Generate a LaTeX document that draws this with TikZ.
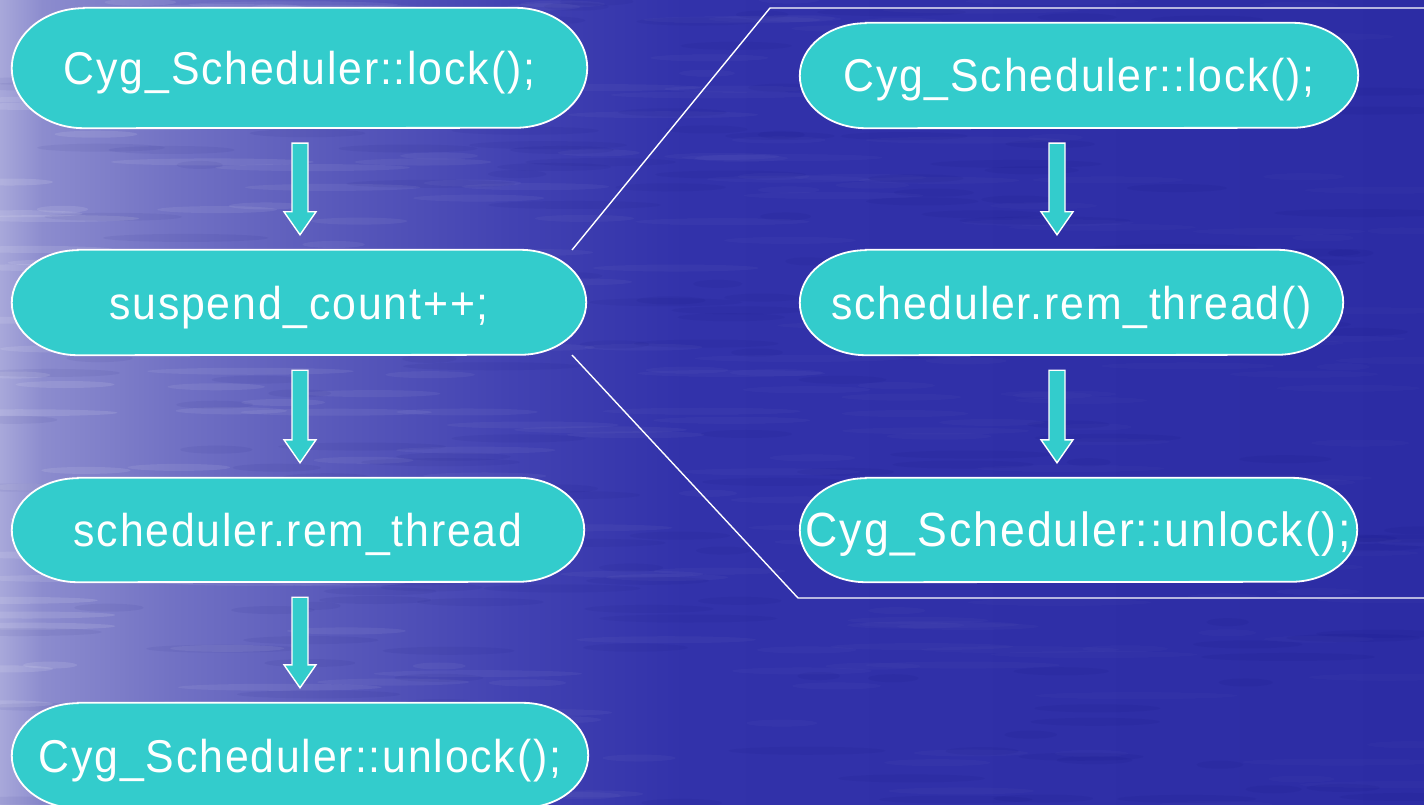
\documentclass[tikz,border=0pt]{standalone}
\usepackage{fontspec}
\newfontfamily\labelfont{Liberation Sans}[FakeStretch=0.93,LetterSpace=4.0]
\usetikzlibrary{calc}

\pgfdeclarelayer{water}
\pgfdeclarelayer{shapes}
\pgfsetlayers{water,shapes,main}

\definecolor{sea}{HTML}{2C2CA4}
\definecolor{pill}{HTML}{33CCCC}
\definecolor{seaA}{HTML}{A8A8DA}
\definecolor{seaB}{HTML}{8C8CCE}
\definecolor{seaC}{HTML}{7272C4}
\definecolor{seaD}{HTML}{5858BA}
\definecolor{seaE}{HTML}{4242B2}
\definecolor{seaF}{HTML}{3232AA}

% horizontal colour ramp of the water backdrop (stretched over 25bp..75bp)
\pgfdeclarehorizontalshading{seaRamp}{100bp}{%
  color(0bp)=(seaA); color(25bp)=(seaA); color(26.5bp)=(seaB); color(31bp)=(seaC);
  color(37bp)=(seaD); color(43bp)=(seaE); color(49bp)=(seaF);
  color(75bp)=(sea); color(100bp)=(sea)}

\tikzset{
  pillnode/.style={inner sep=0pt, text=white,
    font=\labelfont\fontsize{46}{50}\selectfont,
    text height=33pt, text depth=0pt},
  pillbody/.style={fill=pill, draw=white, line width=1.8pt},
  flowarrow/.style={fill=pill, draw=white, line width=1.4pt, line join=miter},
  bracket/.style={draw=white, line width=1.4pt},
}

% elliptic-ended body behind a named node; #2 = end radius across, #3 = half height
\newcommand\pillbody[3]{%
  \path[pillbody]
    ([xshift=#2]#1.north west) -- ([xshift=-#2]#1.north east)
    arc[start angle=90, end angle=-90, x radius=#2, y radius=#3]
    -- ([xshift=#2]#1.south west)
    arc[start angle=270, end angle=90, x radius=#2, y radius=#3] -- cycle;}

% block arrow from node #1 down to node #2 along the column coordinate #3
\newcommand\flow[3]{%
  \path[flowarrow] let \p1=(#1.south), \p2=(#2.north), \p3=(#3) in
    (\x3-8pt,\y1-15pt) -- (\x3+8pt,\y1-15pt) -- (\x3+8pt,\y2+38pt)
    -- (\x3+16pt,\y2+38pt) -- (\x3,\y2+15pt) -- (\x3-16pt,\y2+38pt)
    -- (\x3-8pt,\y2+38pt) -- cycle;}

\begin{document}
\begin{tikzpicture}[x=1pt, y=-1pt]
  \useasboundingbox (0,0) rectangle (1424,805);
  \clip (0,0) rectangle (1424,805);

  % water backdrop with soft horizontal ripples
  \begin{pgfonlayer}{water}
    \shade[shading=seaRamp] (0,0) rectangle (1424,805);
    \pgfmathsetseed{11}
    \foreach \i in {1,...,260}{
      \pgfmathsetmacro\sx{rnd*1424}
      \pgfmathsetmacro\sy{rnd*805}
      \pgfmathsetmacro\sw{25+rnd*80}
      \pgfmathsetmacro\so{0.015+0.10*(1-\sx/1424)^3}
      \fill[white, opacity=\so] (\sx,\sy) ellipse [x radius=\sw pt, y radius=3.5pt];
    }
    \foreach \i in {1,...,200}{
      \pgfmathsetmacro\sx{rnd*1424}
      \pgfmathsetmacro\sy{rnd*805}
      \pgfmathsetmacro\sw{20+rnd*70}
      \fill[blue!40!black, opacity=0.05] (\sx,\sy) ellipse [x radius=\sw pt, y radius=4pt];
    }
  \end{pgfonlayer}

  % column axes of the arrows
  \coordinate (colL) at (300,0);
  \coordinate (colR) at (1057,0);

  % left sequence
  \node[pillnode, minimum width=575pt, minimum height=120pt] (l1) at (299.5,68)
    {Cyg\_Scheduler::lock();};
  \node[pillnode, minimum width=574pt, minimum height=105pt] (l2) at (299,302.5)
    {suspend\_count++;};
  \node[pillnode, minimum width=572pt, minimum height=104pt] (l3) at (298,530)
    {scheduler.rem\_thread};
  \node[pillnode, minimum width=576pt, minimum height=105pt] (l4) at (300,755.5)
    {Cyg\_Scheduler::unlock();};

  % right sequence (expansion of the middle step)
  \node[pillnode, minimum width=558pt, minimum height=105pt] (r1) at (1079,75.5)
    {Cyg\_Scheduler::lock();};
  \node[pillnode, minimum width=543pt, minimum height=105pt] (r2) at (1071.5,302.5)
    {scheduler.rem\_thread()};
  \node[pillnode, minimum width=557pt, minimum height=104pt] (r3) at (1078.5,530)
    {\fontsize{48}{50}\selectfont Cyg\_Scheduler::unlock();};

  \begin{pgfonlayer}{shapes}
    \pillbody{l1}{72pt}{60pt}
    \pillbody{l2}{66pt}{52.5pt}
    \pillbody{l3}{66pt}{52pt}
    \pillbody{l4}{66pt}{52.5pt}
    \pillbody{r1}{66pt}{52.5pt}
    \pillbody{r2}{66pt}{52.5pt}
    \pillbody{r3}{66pt}{52pt}
  \end{pgfonlayer}

  % arrows
  \flow{l1}{l2}{colL}
  \flow{l2}{l3}{colL}
  \flow{l3}{l4}{colL}
  \flow{r1}{r2}{colR}
  \flow{r2}{r3}{colR}

  % bracket opening from the middle step to the expansion
  \coordinate (bUp) at (572,250);
  \coordinate (bLo) at (572,355);
  \coordinate (tUp) at (770,8);
  \coordinate (tLo) at (798,598);
  \coordinate (eUp) at (1424,8);
  \coordinate (eLo) at (1424,598);
  \draw[bracket] (bUp) -- (tUp) -- (eUp);
  \draw[bracket] (bLo) -- (tLo) -- (eLo);
\end{tikzpicture}
\end{document}
